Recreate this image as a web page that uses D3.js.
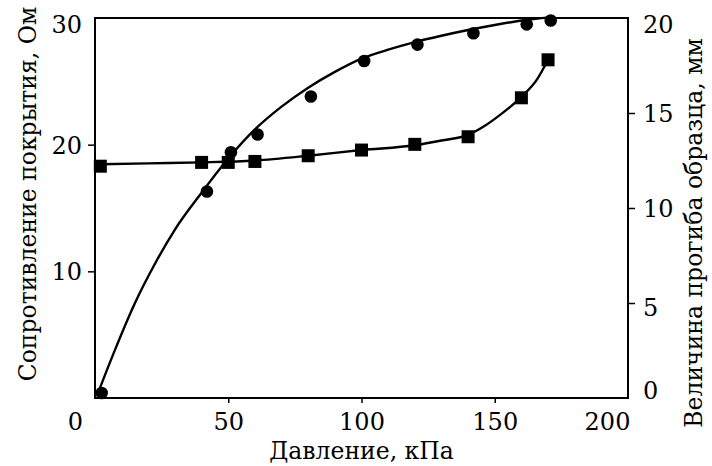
<!DOCTYPE html>
<html>
<head>
<meta charset="utf-8">
<script src="https://cdn.jsdelivr.net/npm/d3@7"></script>
<style>
  body { margin: 0; background: #fff; }
</style>
</head>
<body>
<div id="chart"></div>
<script>
// measured points: pressure (kPa) vs coating resistance (Ohm)
var resistancePressure = [2.5, 42, 51, 61, 81, 101, 121, 142, 162, 171];
var resistanceValues = [0.4, 16.3, 19.4, 20.8, 23.8, 26.6, 27.9, 28.8, 29.5, 29.8];

// measured points: pressure (kPa) vs sample deflection (mm)
var deflectionPressure = [2, 40, 50, 60, 80, 100, 120, 140, 160, 170];
var deflectionValues = [12.2, 12.4, 12.4, 12.45, 12.75, 13.05, 13.35, 13.75, 15.8, 17.8];

// fitted curves
var resistanceFitX = [1.5, 7.5, 15, 22.5, 30, 40, 50, 60, 70, 80, 90, 100, 110, 120, 130, 140, 150, 160, 170, 172];
var resistanceFitY = [0.6, 3.8, 7.5, 10.6, 13.3, 16.2, 18.9, 21.2, 23.0, 24.5, 25.75, 26.8, 27.5, 28.1, 28.6, 29.05, 29.45, 29.8, 30.05, 30.1];
var deflectionFitX = [2, 20, 40, 60, 80, 100, 120, 130, 140, 146, 152, 160, 166, 170];
var deflectionFitY = [12.3, 12.35, 12.4, 12.5, 12.75, 13.05, 13.3, 13.55, 13.85, 14.3, 14.9, 15.85, 16.8, 17.8];

var xTicks = [0, 50, 100, 150, 200];
var leftTicks = [10, 20, 30];
var rightTicks = [0, 5, 10, 15, 20];

var serif = "'DejaVu Serif', serif";
var tickFont = 24;
var titleFont = 23.5;

var svgWidth = 712;
var svgHeight = 466;
var margin = { top: 18, right: 84, bottom: 68, left: 95 };
var chartWidth = svgWidth - margin.left - margin.right;
var chartHeight = svgHeight - margin.top - margin.bottom;

var svg = d3.select("#chart")
  .append("svg")
  .attr("width", svgWidth)
  .attr("height", svgHeight)
  .style("font-family", serif);

var chartGroup = svg.append("g")
  .attr("transform", `translate(${margin.left}, ${margin.top})`);

var xScale = d3.scaleLinear().domain([0, 200]).range([0, chartWidth]);
var yLeft = d3.scaleLinear().domain([0, 30]).range([chartHeight, 0]);
var yRight = d3.scaleLinear().domain([0, 20]).range([chartHeight, 0]);

// bottom axis
var xAxis = chartGroup.append("g")
  .attr("transform", `translate(0, ${chartHeight})`)
  .call(d3.axisBottom(xScale).tickValues(xTicks).tickSize(5).tickSizeOuter(0));

// left axis
var lAxis = chartGroup.append("g")
  .call(d3.axisLeft(yLeft).tickValues(leftTicks).tickSize(7).tickSizeOuter(0));

// right axis
var rAxis = chartGroup.append("g")
  .attr("transform", `translate(${chartWidth}, 0)`)
  .call(d3.axisRight(yRight).tickValues(rightTicks).tickSize(7).tickSizeOuter(0));

[xAxis, lAxis, rAxis].forEach(function(ax) {
  ax.attr("font-family", serif);
  ax.select(".domain").remove();
  ax.selectAll("line").attr("stroke", "#000").attr("stroke-width", 1.5);
  ax.selectAll("text")
    .attr("font-size", tickFont)
    .attr("fill", "#000")
    .style("font-family", serif);
});

// hide tick marks at the frame corners, nudge end labels inward
xAxis.selectAll(".tick").filter(d => d === 0 || d === 200).select("line").remove();
xAxis.selectAll("text").attr("y", 15).attr("dy", "0.71em");
xAxis.selectAll(".tick").filter(d => d === 0).select("text").attr("x", -20);
xAxis.selectAll(".tick").filter(d => d === 200).select("text").attr("x", -21);

lAxis.selectAll(".tick").filter(d => d === 30).select("line").remove();
lAxis.selectAll("text").attr("x", -13).attr("dy", "0.35em");
lAxis.selectAll(".tick").filter(d => d === 30).select("text").attr("dy", "0.6em");

rAxis.selectAll(".tick").filter(d => d === 0 || d === 20).select("line").remove();
rAxis.selectAll("text").attr("x", 15).attr("dy", "0.35em");
rAxis.selectAll(".tick").filter(d => d === 20).select("text").attr("dy", "0.6em");
rAxis.selectAll(".tick").filter(d => d === 5).select("text").attr("dy", "0.5em");
rAxis.selectAll(".tick").filter(d => d === 0).select("text").attr("dy", "0em");

// frame
chartGroup.append("rect")
  .attr("width", chartWidth)
  .attr("height", chartHeight)
  .attr("fill", "none")
  .attr("stroke", "#000")
  .attr("stroke-width", 2);

// fitted curves
var resistanceLine = d3.line()
  .x(d => xScale(d[0]))
  .y(d => yLeft(d[1]))
  .curve(d3.curveMonotoneX);
var deflectionLine = d3.line()
  .x(d => xScale(d[0]))
  .y(d => yRight(d[1]))
  .curve(d3.curveMonotoneX);

chartGroup.append("path")
  .datum(d3.zip(resistanceFitX, resistanceFitY))
  .attr("d", resistanceLine)
  .attr("fill", "none")
  .attr("stroke", "#000")
  .attr("stroke-width", 2.4);

chartGroup.append("path")
  .datum(d3.zip(deflectionFitX, deflectionFitY))
  .attr("d", deflectionLine)
  .attr("fill", "none")
  .attr("stroke", "#000")
  .attr("stroke-width", 2.4);

// markers
chartGroup.selectAll(".resPoint")
  .data(d3.zip(resistancePressure, resistanceValues))
  .enter()
  .append("circle")
  .attr("class", "resPoint")
  .attr("cx", d => xScale(d[0]))
  .attr("cy", d => yLeft(d[1]))
  .attr("r", 6.3)
  .attr("fill", "#000");

var sq = 13;
chartGroup.selectAll(".defPoint")
  .data(d3.zip(deflectionPressure, deflectionValues))
  .enter()
  .append("rect")
  .attr("class", "defPoint")
  .attr("x", d => xScale(d[0]) - sq / 2)
  .attr("y", d => yRight(d[1]) - sq / 2)
  .attr("width", sq)
  .attr("height", sq)
  .attr("fill", "#000");

// axis titles
svg.append("text")
  .attr("x", margin.left + chartWidth / 2)
  .attr("y", 459)
  .attr("text-anchor", "middle")
  .attr("font-size", titleFont)
  .style("font-family", serif)
  .text("Давление, кПа");

svg.append("text")
  .attr("transform", "translate(36, 194) rotate(-90)")
  .attr("text-anchor", "middle")
  .attr("font-size", titleFont)
  .style("font-family", serif)
  .text("Сопротивление покрытия, Ом");

svg.append("text")
  .attr("transform", "translate(702, 233) rotate(-90)")
  .attr("text-anchor", "middle")
  .attr("font-size", titleFont)
  .style("font-family", serif)
  .text("Величина прогиба образца, мм");
</script>
</body>
</html>
